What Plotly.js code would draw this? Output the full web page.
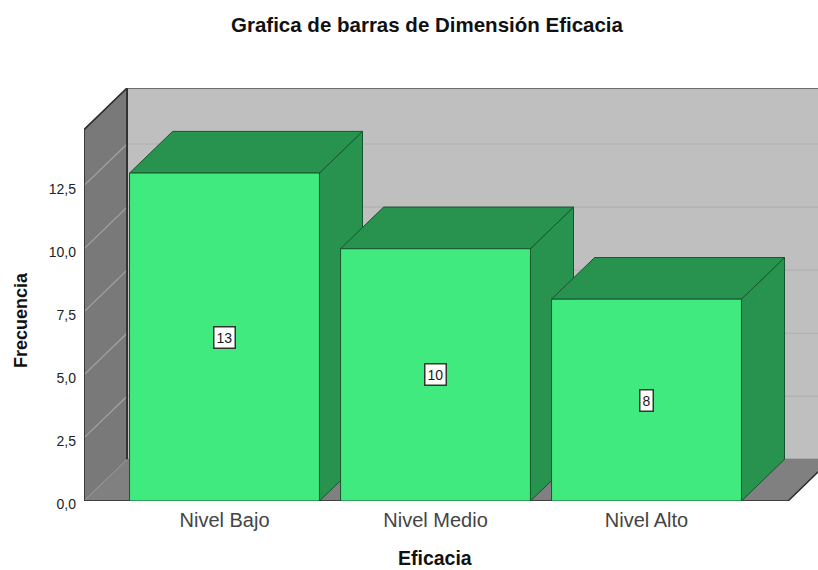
<!DOCTYPE html>
<html>
<head>
<meta charset="utf-8">
<script src="https://cdn.plot.ly/plotly-3.0.1.min.js"></script>
<style>html,body{margin:0;padding:0;background:#fff;overflow:hidden}</style>
</head>
<body>
<div id="chart" style="width:818px;height:570px"></div>
<script>
const categories = ["Nivel Bajo", "Nivel Medio", "Nivel Alto"];
const frecuencia = [13, 10, 8];
const yTicks = [0, 2.5, 5, 7.5, 10, 12.5];
const chartTitle = "Grafica de barras de Dimensión Eficacia";
const xTitle = "Eficacia";
const yTitle = "Frecuencia";

const idx = categories.map((_, i) => i);
const barWidth = 0.9;
const depthX = 0.204, depthY = 1.65;      // oblique projection of the 3D box
const xMin = -0.666, xMax = 2.671;        // floor front edge
const yMax = 14.72;                       // left wall front height
const xRange = [xMin, 2.8128], yRange = [0, yMax + depthY];

const FRONT = "#40ea7e", DARK = "#28934f", EDGE = "#17552f";

function poly(xs, ys, fill, lineColor, lineWidth) {
  return {type: "scatter", mode: "lines", x: xs, y: ys, fill: fill ? "toself" : "none",
    fillcolor: fill || undefined, cliponaxis: false, hoverinfo: "skip", showlegend: false,
    line: {color: lineColor, width: lineWidth}};
}

const traces = [];
// back wall
traces.push(poly([xMin+depthX, xMax+depthX, xMax+depthX, xMin+depthX, xMin+depthX],
                 [depthY, depthY, yMax+depthY, yMax+depthY, depthY], "#bfbfbf", "#555555", 1));
// left wall
traces.push(poly([xMin, xMin+depthX, xMin+depthX, xMin, xMin],
                 [0, depthY, yMax+depthY, yMax, 0], "#797979", "#797979", 1));
// floor
traces.push(poly([xMin, xMin+depthX, xMax+depthX, xMax, xMin],
                 [0, depthY, depthY, 0, 0], "#808080", "#808080", 1));
// gridlines on walls
yTicks.filter(v => v > 0).forEach(v => {
  traces.push(poly([xMin, xMin+depthX], [v, v+depthY], null, "#a3a3a3", 1.2));
  traces.push(poly([xMin+depthX, xMax+depthX], [v+depthY, v+depthY], null, "#b0b0b0", 1.2));
});
// floor diagonal
traces.push(poly([xMin, xMin+depthX], [0, depthY], null, "#9a9a9a", 1));
// wall edges
traces.push(poly([xMin, xMin, xMin+depthX], [0, yMax, yMax+depthY], null, "#2b2b2b", 1.6));
traces.push(poly([xMin+depthX, xMin+depthX], [depthY, yMax+depthY], null, "#2b2b2b", 1.8));
traces.push(poly([xMin+depthX, xMax+depthX], [yMax+depthY, yMax+depthY], null, "#555555", 1));
traces.push(poly([xMin, xMax, xMax+depthX], [0, 0, depthY], null, "#2b2b2b", 1.5));

// bar sides and tops, back to front
idx.forEach(i => {
  const v = frecuencia[i], l = i - barWidth/2, r = i + barWidth/2;
  traces.push(poly([r, r+depthX, r+depthX, r, r], [0, depthY, v+depthY, v, 0], DARK, EDGE, 1));
  traces.push(poly([l, l+depthX, r+depthX, r, l], [v, v+depthY, v+depthY, v, v], DARK, EDGE, 1));
});

// bar fronts, on an overlaid subplot so they sit above the neighbouring sides
traces.push({type: "bar", x: idx, y: frecuencia, width: barWidth, xaxis: "x2", yaxis: "y2",
  marker: {color: FRONT, line: {color: EDGE, width: 1}}, showlegend: false, hoverinfo: "x+y"});

const font = "Liberation Sans, Arial, sans-serif";
const annotations = idx.map(i => ({
  x: i, y: frecuencia[i]/2, xref: "x", yref: "y", text: String(frecuencia[i]), showarrow: false,
  bgcolor: "#ffffff", bordercolor: "#333333", borderwidth: 1.5, borderpad: 2,
  font: {family: font, size: 14, color: "#1a1a1a"}
}));
annotations.push({xref: "paper", yref: "paper", x: (435-84)/734, y: (501-557.5)/413, xanchor: "center", yanchor: "middle",
  text: "<b>"+xTitle+"</b>", showarrow: false, font: {family: font, size: 19.5, color: "#111"}});
annotations.push({xref: "paper", yref: "paper", x: (21-84)/734, y: (501-320)/413, xanchor: "center", yanchor: "middle",
  text: "<b>"+yTitle+"</b>", textangle: -90, showarrow: false, font: {family: font, size: 18, color: "#111"}});

const layout = {
  width: 818, height: 570, paper_bgcolor: "#ffffff", plot_bgcolor: "rgba(0,0,0,0)",
  separators: ", ", showlegend: false, barmode: "overlay",
  margin: {l: 84, r: 0, t: 88, b: 69, pad: 0},
  title: {text: "<b>"+chartTitle+"</b>", x: 427/818, xanchor: "center", y: 1-25/570, yanchor: "middle",
          font: {family: font, size: 20.5, color: "#111"}},
  xaxis: {range: xRange, tickmode: "array", tickvals: idx, ticktext: categories, showgrid: false, zeroline: false,
          showline: false, ticks: "", ticklabelstandoff: 5, tickfont: {family: font, size: 20, color: "#444"}},
  yaxis: {range: yRange, tickmode: "array", tickvals: yTicks, tickformat: ".1f", showgrid: false, zeroline: false,
          showline: false, ticks: "", ticklabelstandoff: 7, ticklabelshift: 3, tickfont: {family: font, size: 14, color: "#222"}},
  xaxis2: {range: xRange, overlaying: "x", anchor: "y2", visible: false},
  yaxis2: {range: yRange, overlaying: "y", anchor: "x2", visible: false},
  annotations
};
Plotly.newPlot("chart", traces, layout, {displayModeBar: false, responsive: false});
</script>
</body>
</html>
